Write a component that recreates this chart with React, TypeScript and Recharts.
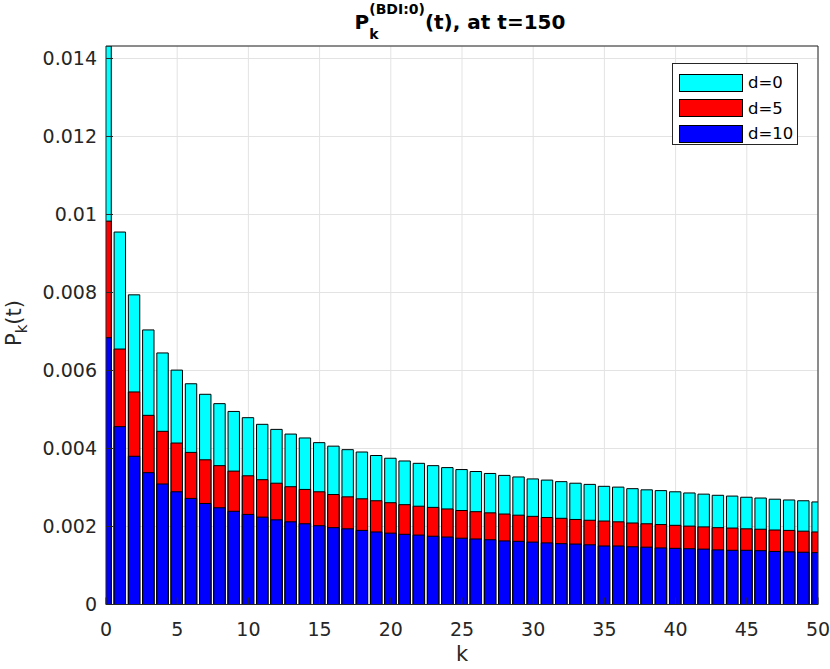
import React from 'react';
import { BarChart, Bar, XAxis, YAxis, CartesianGrid } from 'recharts';

// P_k(t) at t=150 for k = 0..50, one array per d
const kValues = Array.from({ length: 51 }, (_, i) => i);

const d0 = [
  0.01432, 0.00955, 0.00794, 0.00704, 0.00645, 0.00601, 0.00566, 0.00539, 0.00515, 0.00495,
  0.00479, 0.00462, 0.00449, 0.00437, 0.00427, 0.00415, 0.00406, 0.00397, 0.00391, 0.00382,
  0.00375, 0.00368, 0.00362, 0.00356, 0.00351, 0.00346, 0.00341, 0.00336, 0.00331, 0.00327,
  0.00322, 0.00319, 0.00315, 0.00311, 0.00308, 0.00303, 0.00301, 0.00297, 0.00294, 0.00292,
  0.00289, 0.00286, 0.00283, 0.0028, 0.00278, 0.00275, 0.00273, 0.0027, 0.00268, 0.00266,
  0.00263,
];

const d5 = [
  0.00983, 0.00655, 0.00545, 0.00485, 0.00444, 0.00414, 0.0039, 0.00371, 0.00356, 0.00342,
  0.0033, 0.0032, 0.00311, 0.00302, 0.00295, 0.00289, 0.00282, 0.00276, 0.00271, 0.00266,
  0.00261, 0.00256, 0.00252, 0.00249, 0.00245, 0.00241, 0.00238, 0.00235, 0.00232, 0.00229,
  0.00226, 0.00223, 0.00221, 0.00218, 0.00216, 0.00214, 0.00212, 0.00209, 0.00207, 0.00205,
  0.00203, 0.00201, 0.00199, 0.00197, 0.00196, 0.00194, 0.00193, 0.00191, 0.0019, 0.00188,
  0.00186,
];

const d10 = [
  0.00684, 0.00456, 0.0038, 0.00338, 0.00309, 0.00289, 0.00272, 0.00259, 0.00248, 0.00239,
  0.00231, 0.00224, 0.00217, 0.00212, 0.00207, 0.00202, 0.00197, 0.00194, 0.0019, 0.00186,
  0.00183, 0.0018, 0.00178, 0.00175, 0.00173, 0.0017, 0.00168, 0.00166, 0.00163, 0.00162,
  0.0016, 0.00158, 0.00156, 0.00155, 0.00153, 0.0015, 0.0015, 0.00148, 0.00147, 0.00145,
  0.00144, 0.00143, 0.00142, 0.0014, 0.00139, 0.00139, 0.00138, 0.00136, 0.00135, 0.00134,
  0.00133,
];

const xTicks = [0, 5, 10, 15, 20, 25, 30, 35, 40, 45, 50];
const yTicks = [0, 0.002, 0.004, 0.006, 0.008, 0.01, 0.012, 0.014];

const series = [
  { key: 'd0', name: 'd=0', color: '#00ffff', axis: 0 },
  { key: 'd5', name: 'd=5', color: '#ff0000', axis: 'r' },
  { key: 'd10', name: 'd=10', color: '#0000ff', axis: 'b' },
];

const data = kValues.map((k, i) => ({ k, d0: d0[i], d5: d5[i], d10: d10[i] }));

const AXIS = '#262626';
const FONT = '"DejaVu Sans", sans-serif';
const tickStyle = { fill: AXIS, fontSize: 19, fontFamily: FONT };
const fmtY = (v: number) => String(Number(v.toFixed(3)));

const App = () => {
  return (
    <div style={{ position: 'absolute', left: 0, top: 0, width: 830, height: 669, background: '#fff', fontFamily: FONT, color: '#000' }}>
      <BarChart
        width={830}
        height={669}
        data={data}
        margin={{ top: 45, right: 11, left: 6, bottom: 34.5 }}
        barGap={0}
      >
        <CartesianGrid stroke="#e3e3e3" />
        <XAxis
          dataKey="k"
          type="number"
          domain={[0, 50]}
          ticks={xTicks}
          allowDataOverflow
          height={30}
          tick={tickStyle}
          tickSize={-7}
          tickMargin={25}
          stroke={AXIS}
          interval={0}
        />
        <XAxis xAxisId="r" dataKey="k" type="number" domain={[0, 50]} allowDataOverflow hide />
        <XAxis xAxisId="b" dataKey="k" type="number" domain={[0, 50]} allowDataOverflow hide />
        <XAxis
          xAxisId="top"
          orientation="top"
          dataKey="k"
          type="number"
          domain={[0, 50]}
          ticks={xTicks}
          allowDataOverflow
          height={1}
          tick={false}
          tickSize={-7}
          stroke={AXIS}
          interval={0}
        />
        <YAxis
          type="number"
          domain={[0, 0.01432]}
          ticks={yTicks}
          allowDataOverflow
          width={100}
          tick={tickStyle}
          tickSize={-7}
          tickMargin={16}
          tickFormatter={fmtY}
          stroke={AXIS}
          interval={0}
        />
        <YAxis
          yAxisId="right"
          orientation="right"
          type="number"
          domain={[0, 0.01432]}
          ticks={yTicks}
          allowDataOverflow
          width={1}
          tick={false}
          tickSize={-7}
          stroke={AXIS}
          interval={0}
        />
        {series.map((s) => (
          <Bar
            key={s.key}
            dataKey={s.key}
            name={s.name}
            xAxisId={s.axis}
            fill={s.color}
            stroke="#000"
            strokeWidth={1}
            barSize={11.4}
            isAnimationActive={false}
          />
        ))}
      </BarChart>

      {/* title */}
      <div
        style={{
          position: 'absolute',
          left: 460,
          top: 0,
          transform: 'translateX(-50%)',
          whiteSpace: 'nowrap',
          fontWeight: 'bold',
          fontSize: 20,
          lineHeight: 1,
          display: 'flex',
          alignItems: 'flex-start',
          color: '#000',
        }}
      >
        <span style={{ marginTop: 12 }}>P</span>
        <span style={{ display: 'inline-flex', flexDirection: 'column', fontSize: 14, lineHeight: '14px', marginTop: 2 }}>
          <span>(BDI:0)</span>
          <span style={{ marginTop: 11 }}>k</span>
        </span>
        <span style={{ marginTop: 12 }}>(t), at t=150</span>
      </div>

      {/* y label */}
      <div
        style={{
          position: 'absolute',
          left: 17,
          top: 323,
          transform: 'translate(-50%, -50%) rotate(-90deg)',
          whiteSpace: 'nowrap',
          fontSize: 21,
          lineHeight: 1,
          color: AXIS,
        }}
      >
        P<sub style={{ fontSize: 15, verticalAlign: -6 }}>k</sub>(t)
      </div>

      {/* x label */}
      <div
        style={{
          position: 'absolute',
          left: 462,
          top: 644,
          transform: 'translateX(-50%)',
          fontSize: 21,
          lineHeight: 1,
          color: AXIS,
        }}
      >
        k
      </div>

      {/* legend */}
      <div
        style={{
          position: 'absolute',
          left: 672,
          top: 63,
          width: 126,
          height: 82,
          border: '1px solid #262626',
          background: '#fff',
          boxSizing: 'border-box',
          padding: '6px 0 0 6px',
        }}
      >
        {series.map((s) => (
          <div key={s.key} style={{ display: 'flex', alignItems: 'center', height: 25.5 }}>
            <div style={{ width: 64, height: 18, background: s.color, border: '1px solid #000', boxSizing: 'border-box' }} />
            <span style={{ marginLeft: 5, fontSize: 16.5, color: '#000' }}>{s.name}</span>
          </div>
        ))}
      </div>
    </div>
  );
};

export default App;
